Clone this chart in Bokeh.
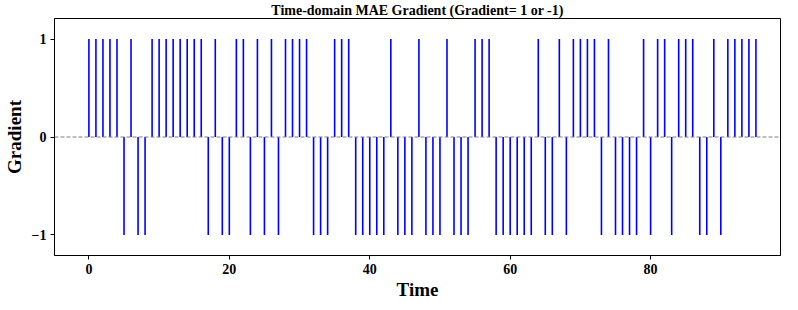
from bokeh.plotting import figure
from bokeh.models import Span, FixedTicker, Range1d, ColumnDataSource
from bokeh.embed import file_html
from bokeh.resources import INLINE

times = list(range(96))
gradient = [
    1, 1, 1, 1, 1, -1, 1, -1, -1, 1,
    1, 1, 1, 1, 1, 1, 1, -1, 1, -1,
    -1, 1, 1, -1, 1, -1, 1, -1, 1, 1,
    1, 1, -1, -1, -1, 1, 1, 1, -1, -1,
    -1, -1, -1, 1, -1, -1, -1, 1, -1, -1,
    -1, 1, -1, -1, -1, 1, 1, 1, -1, -1,
    -1, -1, -1, -1, 1, -1, -1, 1, -1, 1,
    1, 1, 1, -1, 1, -1, -1, -1, -1, 1,
    -1, 1, 1, -1, 1, 1, 1, -1, -1, 1,
    -1, 1, 1, 1, 1, 1,
]
x_ticks = [0, 20, 40, 60, 80]
y_ticks = [-1, 0, 1]
y_tick_labels = {-1: "\u22121", 0: "0", 1: "1"}

FONT = "Liberation Serif"
X0, X1 = -4.9, 98.5

p = figure(width=782, height=302, output_backend="svg", toolbar_location=None,
           x_range=Range1d(X0, X1), y_range=Range1d(-1.21, 1.21),
           min_border_left=40, min_border_right=2, min_border_top=0, min_border_bottom=0,
           title="Time-domain MAE Gradient (Gradient= 1 or -1)")

p.title.text_font = FONT
p.title.text_font_style = "bold"
p.title.text_font_size = "14px"
p.title.align = "center"
p.title.text_color = "black"
p.title.standoff = 1
p.title.offset = 0

p.grid.visible = False
p.outline_line_color = "black"
p.outline_line_width = 1
p.outline_line_alpha = 1

src = ColumnDataSource(dict(t=times, g=gradient, z=[0] * len(times)))
p.segment(x0="t", y0="z", x1="t", y1="g", source=src, line_color="#0000ff", line_width=1.6)

p.add_layout(Span(location=0, dimension="width", line_color="gray",
                  line_dash="4 2", line_width=1))

for ax in (p.xaxis[0], p.yaxis[0]):
    ax.axis_line_color = "black"
    ax.major_tick_line_color = "black"
    ax.major_tick_in = 0
    ax.major_tick_out = 4
    ax.minor_tick_line_color = None
    ax.major_label_text_font = FONT
    ax.major_label_text_font_style = "bold"
    ax.major_label_text_font_size = "14px"
    ax.major_label_text_color = "black"
    ax.axis_label_text_font = FONT
    ax.axis_label_text_font_style = "bold"
    ax.axis_label_text_font_size = "19px"
    ax.axis_label_text_color = "black"

p.xaxis[0].ticker = FixedTicker(ticks=x_ticks)
p.yaxis[0].ticker = FixedTicker(ticks=y_ticks)
p.yaxis[0].major_label_overrides = y_tick_labels
p.xaxis[0].axis_label = "Time"
p.yaxis[0].axis_label = "Gradient"
p.xaxis[0].major_label_standoff = 4
p.xaxis[0].axis_label_standoff = 2
p.yaxis[0].major_label_standoff = 4
p.yaxis[0].axis_label_standoff = 4

open("out.html", "w").write(file_html(p, INLINE))
